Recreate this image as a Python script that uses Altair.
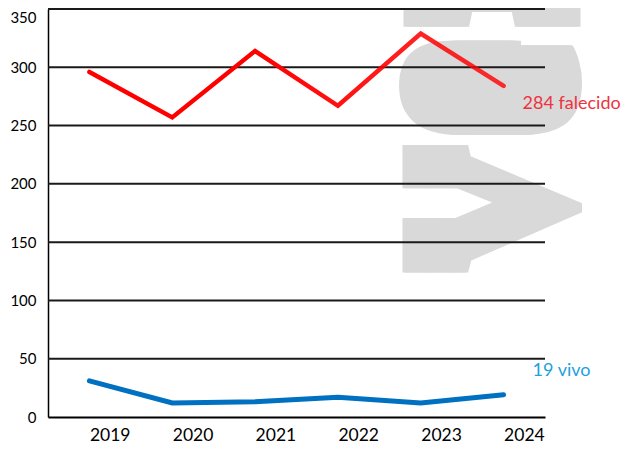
import altair as alt
import pandas as pd

years = ["2019", "2020", "2021", "2022", "2023", "2024"]
falecido = [296, 257, 314, 267, 329, 284]
vivo = [31, 12, 13, 17, 12, 19]
y_ticks = [0, 50, 100, 150, 200, 250, 300, 350]
grid_values = [50, 100, 150, 200, 250, 300, 350]

df_f = pd.DataFrame({"year": years, "value": falecido})
df_v = pd.DataFrame({"year": years, "value": vivo})
df_grid = pd.DataFrame({"value": grid_values})
df_lab_f = pd.DataFrame({"year": ["2024"], "value": [268.5], "label": ["284 falecido"]})
df_lab_v = pd.DataFrame({"year": ["2024"], "value": [39.5], "label": ["19 vivo"]})
df_wm = pd.DataFrame({"year": ["2024"], "value": [124], "label": ["ver"]})

xscale = alt.Scale(type="point", padding=0.5, domain=years)
yscale = alt.Scale(domain=[0, 350], nice=False)

x_enc = alt.X("year:N", scale=xscale, sort=years,
              axis=alt.Axis(title=None, labelAngle=0, ticks=False, domain=True,
                            domainColor="#000000", domainWidth=2,
                            labelFont="Lato", labelFontSize=17.5, labelColor="#000000",
                            labelPadding=9, labelAlign="left", grid=False))
y_enc = alt.Y("value:Q", scale=yscale,
              axis=alt.Axis(title=None, values=y_ticks, ticks=False, domain=True,
                            domainColor="#000000", domainWidth=1.5, grid=False,
                            labelFont="Lato", labelFontSize=15, labelColor="#000000",
                            labelPadding=12,
                            labelOffset={"condition": {"test": "datum.value == 350", "value": 8},
                                         "value": 0}))

# watermark "ver", drawn several times with small offsets to widen it
wm_layers = []
for off in range(0, 63, 3):
    wm_layers.append(
        alt.Chart(df_wm).mark_text(
            angle=270, align="left", baseline="alphabetic", font="Liberation Serif",
            fontSize=255, color="#D9D9D9", dy=76 - off
        ).encode(x=x_enc, y=y_enc, text="label:N")
    )

grid = alt.Chart(df_grid).mark_rule(color="#1a1a1a", strokeWidth=2).encode(y=y_enc)

red_line = alt.Chart(df_f).mark_line(
    strokeWidth=4.5,
    strokeCap="round",
    color=alt.Gradient(
        gradient="linear",
        stops=[alt.GradientStop(offset=0, color="#FF0000"),
               alt.GradientStop(offset=0.4, color="#FF0000"),
               alt.GradientStop(offset=1, color="rgba(255,0,0,0.8)")],
        x1=0, x2=1, y1=0, y2=0,
    ),
).encode(x=x_enc, y=y_enc)

blue_line = alt.Chart(df_v).mark_line(
    strokeWidth=5, color="#0070C0", strokeCap="round"
).encode(x=x_enc, y=y_enc)

label_f = alt.Chart(df_lab_f).mark_text(
    align="left", baseline="middle", font="Lato", fontSize=18, color="#EE3340", dx=19
).encode(x=x_enc, y=y_enc, text="label:N")

label_v = alt.Chart(df_lab_v).mark_text(
    align="left", baseline="middle", font="Lato", fontSize=18, color="#1CA2DE", dx=29
).encode(x=x_enc, y=y_enc, text="label:N")

chart = alt.layer(*wm_layers, grid, red_line, blue_line, label_f, label_v).properties(
    width=497, height=408,
    background="#FFFFFF",
    autosize=alt.AutoSizeParams(type="none"),
    padding={"left": 40, "top": 1, "right": 76, "bottom": 28},
).configure_view(stroke=None)

chart.save("out.html", embed_options={"renderer": "svg", "actions": False})
